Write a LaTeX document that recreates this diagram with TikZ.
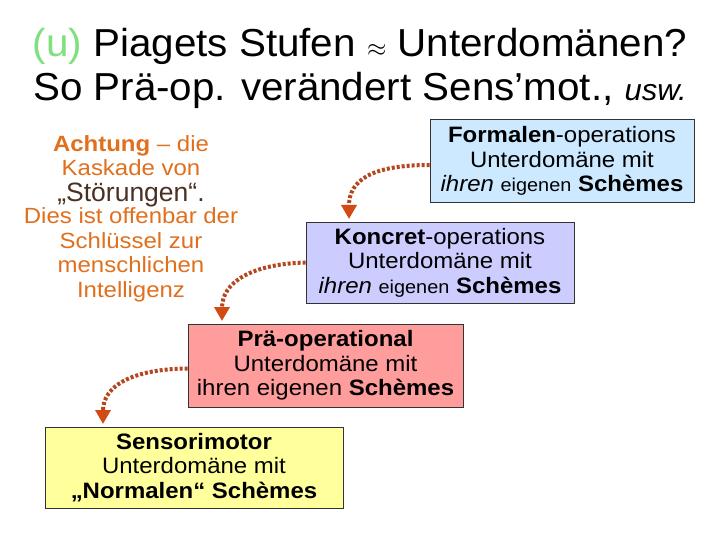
\documentclass[tikz,border=0pt]{standalone}
\usepackage{fontspec}
\setmainfont{Liberation Sans}
\newfontfamily\widefont[FakeStretch=1.075]{Liberation Sans}
\newfontfamily\notefont[FakeStretch=1.09]{Liberation Sans}
\newfontfamily\ttlfont[FakeStretch=1.035]{Liberation Sans}
\usetikzlibrary{arrows.meta}
\definecolor{ttlgreen}{HTML}{7FE07F}
\definecolor{warnorange}{HTML}{E0701E}
\definecolor{stoer}{HTML}{4A3022}
\definecolor{arrowdots}{HTML}{B5461E}
\definecolor{arrowhead}{HTML}{D44A14}
\definecolor{fblue}{HTML}{CCE9FF}
\definecolor{klav}{HTML}{CCCCFF}
\definecolor{prose}{HTML}{FF9C9C}
\definecolor{syel}{HTML}{FFFF9C}
\tikzset{
  stage/.style={draw=black!80, line width=0.8pt, align=center, inner sep=0pt,
    font=\widefont\fontsize{22.3}{24.5}\selectfont},
  casc/.style={draw=arrowdots, line width=4pt, dash pattern=on 3pt off 2pt,
    -{Triangle[width=15pt,length=14pt,fill=arrowhead,color=arrowhead]}},
  ttl/.style={font=\ttlfont\fontsize{39}{50}\selectfont, anchor=base, inner sep=0pt},
  notetxt/.style={text=warnorange, inner sep=0pt, anchor=base,
    font=\notefont\fontsize{22}{24.5}\selectfont},
}
\newcommand{\sm}[1]{{\fontsize{18.5}{24.5}\selectfont #1}}
\begin{document}
\begin{tikzpicture}[x=1pt,y=-1pt]
\useasboundingbox (0,0) rectangle (720,540);
\fill[white] (0,0) rectangle (720,540);
% title
\node[ttl] (t1) at (360,57) {\textcolor{ttlgreen}{(u)} Piagets Stufen $\approx$ Unterdomänen?};
\node[ttl] (t2) at (360,101) {So Prä-op. verändert Sens’mot., {\fontsize{30}{40}\selectfont\itshape usw.}};
% left note
\node[notetxt] (noteA) at (131,151.5) {\textbf{Achtung} – die};
\node[notetxt, text depth=0pt] (noteB) at (131,175.5) {Kaskade von};
\node[notetxt, text=stoer, text height=20pt, font=\rmfamily\fontsize{26.5}{27}\selectfont] (noteC) at (131,201.5) {„Störungen“.};
\node[notetxt] (noteD) at (131,224) {Dies ist offenbar der};
\node[notetxt] (noteE) at (131,248) {Schlüssel zur};
\node[notetxt] (noteF) at (131,272.5) {menschlichen};
\node[notetxt] (noteG) at (131,297) {Intelligenz};
% boxes
\node[stage, fill=fblue, minimum width=264pt, minimum height=83pt] (form) at (562,161)
  {\textbf{Formalen}-operations\\Unterdomäne mit\\\textit{ihren} \sm{eigenen} \textbf{Schèmes}};
\node[stage, fill=klav, minimum width=268pt, minimum height=81pt] (konk) at (440,262.5)
  {\textbf{Koncret}-operations\\Unterdomäne mit\\\textit{ihren} \sm{eigenen} \textbf{Schèmes}};
\node[stage, fill=prose, minimum width=275pt, minimum height=83pt] (prae) at (325.5,365.5)
  {\textbf{Prä-operational}\\Unterdomäne mit\\ihren eigenen \textbf{Schèmes}};
\node[stage, fill=syel, minimum width=298pt, minimum height=81pt] (sens) at (194,467.5)
  {\textbf{Sensorimotor}\\Unterdomäne mit\\\textbf{„Normalen“ Schèmes}};
% arrow tips
\coordinate (e1) at (349,219);
\coordinate (e2) at (222,321);
\coordinate (e3) at (103,424);
\draw[casc] ([yshift=-4pt]form.west) .. controls (372,165) and (349,180) .. (e1);
\draw[casc] (konk.west) .. controls (252,264) and (222,282) .. (e2);
\draw[casc] ([yshift=-3pt]prae.west) .. controls (132,369) and (103,386) .. (e3);
\end{tikzpicture}
\end{document}
